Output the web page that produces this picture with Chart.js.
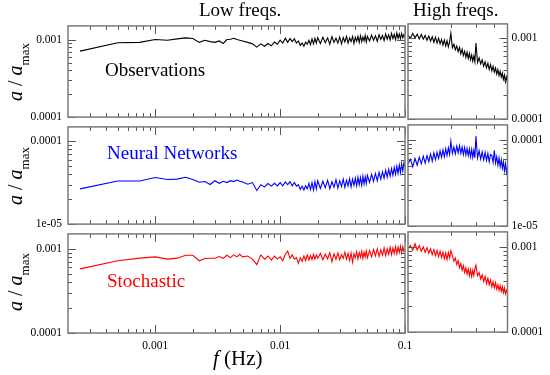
<!DOCTYPE html>
<html>
<head>
<meta charset="utf-8">
<script src="https://cdn.jsdelivr.net/npm/chart.js@4.4.0/dist/chart.umd.min.js"></script>
<style>
  body { margin: 0; background: #fff; }
  #fig { position: relative; width: 550px; height: 375px; overflow: hidden; font-family: 'Liberation Serif', 'Times New Roman', serif; }
  #fig canvas { position: absolute; }
  .txt { position: absolute; white-space: nowrap; font-size: 19px; line-height: 20px; }
  .ytit { position: absolute; width: 100px; height: 24px; line-height: 24px; text-align: center; font-size: 20px; transform: rotate(-90deg); white-space: nowrap; }
  .ytit span { font-size: 13px; position: relative; top: 7px; }
</style>
</head>
<body>
<div id="fig">
  <div class="txt" style="left:199px; top:0px;">Low freqs.</div>
  <div class="txt" style="left:413px; top:0px;">High freqs.</div>
  <div class="txt" style="left:105px; top:60px; color:#000;">Observations</div>
  <div class="txt" style="left:107px; top:143px; color:#0000ff;">Neural Networks</div>
  <div class="txt" style="left:107px; top:271px; color:#ff0000;">Stochastic</div>
  <div class="txt" style="left:213px; top:347px; font-size:21px; line-height:22px;"><i>f</i> (Hz)</div>
  <div class="ytit" style="left:-35px; top:60px;"><i>a</i> / <i>a</i><span>max</span></div>
  <div class="ytit" style="left:-35px; top:164px;"><i>a</i> / <i>a</i><span>max</span></div>
  <div class="ytit" style="left:-35px; top:270px;"><i>a</i> / <i>a</i><span>max</span></div>
</div>
<script>
// frecuencias (Hz): panel de bajas frecuencias y panel de altas frecuencias
const fLow = [
  0.00025, 0.0005, 0.00075, 0.001, 0.00125, 0.0015, 0.00175, 0.002, 0.00225, 0.0025,
  0.00275, 0.003, 0.00325, 0.0035, 0.00375, 0.004, 0.00425, 0.0045, 0.00475, 0.005,
  0.0055, 0.006, 0.0065, 0.007, 0.0075, 0.008, 0.0085, 0.009, 0.0095, 0.01,
  0.0105, 0.011, 0.0115, 0.012, 0.0125, 0.013, 0.0135, 0.014, 0.0145, 0.015,
  0.0155, 0.016, 0.0165, 0.017, 0.0175, 0.018, 0.0185, 0.019, 0.0195, 0.02,
  0.021, 0.022, 0.023, 0.024, 0.025, 0.026, 0.027, 0.028, 0.029, 0.03,
  0.031, 0.032, 0.033, 0.034, 0.035, 0.036, 0.037, 0.038, 0.039, 0.04,
  0.041, 0.042, 0.043, 0.044, 0.045, 0.046, 0.047, 0.048, 0.049, 0.05,
  0.052, 0.054, 0.056, 0.058, 0.06, 0.062, 0.064, 0.066, 0.068, 0.07,
  0.072, 0.074, 0.076, 0.078, 0.08, 0.082, 0.084, 0.086, 0.088, 0.09,
  0.092, 0.094, 0.096, 0.098, 0.1
];
const fHigh = [
  0.1, 0.104, 0.108, 0.112, 0.116, 0.12, 0.124, 0.128, 0.132, 0.136,
  0.14, 0.144, 0.148, 0.152, 0.156, 0.16, 0.164, 0.168, 0.172, 0.176,
  0.18, 0.184, 0.188, 0.192, 0.196, 0.2,
  0.205, 0.21, 0.215, 0.22, 0.225, 0.23, 0.235, 0.24, 0.245, 0.25,
  0.255, 0.26, 0.265, 0.27, 0.275, 0.28, 0.285, 0.29, 0.295, 0.3,
  0.308, 0.316, 0.324, 0.332, 0.34, 0.348, 0.356, 0.364, 0.372, 0.38,
  0.388, 0.396, 0.404, 0.412, 0.42, 0.428, 0.436, 0.444, 0.452, 0.46,
  0.468, 0.476, 0.484, 0.492, 0.5
];

// Observations (a / a_max)
const obsLow = [
  7.1e-4, 9.1e-4, 9.2e-4, 1.0e-3, 9.8e-4, 1.02e-3, 1.05e-3, 1.03e-3, 9.2e-4, 9.8e-4,
  9.4e-4, 9.2e-4, 9.6e-4, 8.9e-4, 1.0e-3, 1.01e-3, 1.04e-3, 1.0e-3, 9.8e-4, 9.6e-4,
  9.2e-4, 8.8e-4, 8.0e-4, 8.8e-4, 8.2e-4, 8.9e-4, 8.3e-4, 9.3e-4, 8.7e-4, 9.8e-4,
  9.0e-4, 1.04e-3, 9.2e-4, 1.03e-3, 9.4e-4, 1.02e-3, 9.0e-4, 9.6e-4, 8.4e-4, 9.0e-4,
  8.2e-4, 9.3e-4, 8.7e-4, 9.8e-4, 8.6e-4, 1.02e-3, 8.8e-4, 1.04e-3, 9.0e-4, 1.06e-3,
  8.9e-4, 1.07e-3, 9.1e-4, 1.05e-3, 8.7e-4, 1.09e-3, 9.2e-4, 1.04e-3, 9.0e-4, 1.08e-3,
  8.8e-4, 1.06e-3, 9.3e-4, 1.1e-3, 9.0e-4, 1.05e-3, 9.4e-4, 1.09e-3, 8.9e-4, 1.07e-3,
  9.5e-4, 1.1e-3, 9.2e-4, 1.12e-3, 9.4e-4, 1.08e-3, 9.6e-4, 1.13e-3, 9.3e-4, 1.1e-3,
  9.6e-4, 1.14e-3, 9.8e-4, 1.12e-3, 9.5e-4, 1.16e-3, 1.0e-3, 1.13e-3, 9.7e-4, 1.18e-3,
  1.01e-3, 1.15e-3, 9.9e-4, 1.2e-3, 1.03e-3, 1.17e-3, 1.0e-3, 1.22e-3, 1.04e-3, 1.18e-3,
  1.02e-3, 1.2e-3, 1.05e-3, 1.16e-3, 1.09e-3
];
const obsHigh = [
  1.08e-3, 1.0e-3, 1.14e-3, 1.01e-3, 1.12e-3, 9.8e-4, 1.11e-3, 9.7e-4, 1.08e-3, 9.4e-4,
  1.06e-3, 9.2e-4, 1.04e-3, 8.9e-4, 1.03e-3, 8.7e-4, 1.0e-3, 8.5e-4, 9.7e-4, 8.2e-4,
  9.5e-4, 8.0e-4, 9.3e-4, 7.8e-4, 9.0e-4, 1.15e-3,
  7.6e-4, 8.4e-4, 7.2e-4, 8.0e-4, 6.8e-4, 7.7e-4, 6.4e-4, 7.3e-4, 6.1e-4, 6.9e-4,
  5.8e-4, 6.7e-4, 5.6e-4, 6.5e-4, 5.4e-4, 6.2e-4, 5.2e-4, 6.0e-4, 5.1e-4, 8.7e-4,
  5.0e-4, 5.7e-4, 4.8e-4, 5.4e-4, 4.5e-4, 5.1e-4, 4.3e-4, 4.9e-4, 4.1e-4, 4.7e-4,
  3.95e-4, 4.5e-4, 3.8e-4, 4.3e-4, 3.6e-4, 4.1e-4, 3.45e-4, 3.9e-4, 3.3e-4, 3.7e-4,
  3.1e-4, 3.5e-4, 2.9e-4, 3.3e-4, 2.8e-4
];

// Neural Networks
const nnLow = [
  2.67e-5, 3.32e-5, 3.32e-5, 3.66e-5, 3.47e-5, 3.5e-5, 3.68e-5, 3.47e-5, 3.21e-5, 3.27e-5,
  3.01e-5, 3.35e-5, 3.12e-5, 3.3e-5, 3.18e-5, 3.35e-5, 3.27e-5, 3.41e-5, 3.3e-5, 3.24e-5,
  3.04e-5, 3.18e-5, 2.55e-5, 3.0e-5, 2.82e-5, 3.1e-5, 2.88e-5, 3.12e-5, 2.9e-5, 3.18e-5,
  2.9e-5, 3.24e-5, 3.0e-5, 3.27e-5, 2.9e-5, 3.18e-5, 2.88e-5, 3.0e-5, 2.62e-5, 2.88e-5,
  2.58e-5, 2.9e-5, 2.67e-5, 3.12e-5, 2.62e-5, 3.18e-5, 2.58e-5, 3.27e-5, 2.67e-5, 3.35e-5,
  2.7e-5, 3.3e-5, 2.75e-5, 3.4e-5, 2.68e-5, 3.25e-5, 2.8e-5, 3.45e-5, 2.72e-5, 3.35e-5,
  2.85e-5, 3.5e-5, 2.78e-5, 3.4e-5, 2.9e-5, 3.55e-5, 2.82e-5, 3.5e-5, 2.95e-5, 3.6e-5,
  2.9e-5, 3.7e-5, 3.0e-5, 3.65e-5, 2.95e-5, 3.8e-5, 3.05e-5, 3.75e-5, 3.1e-5, 3.9e-5,
  3.2e-5, 4.0e-5, 3.3e-5, 4.1e-5, 3.35e-5, 4.25e-5, 3.5e-5, 4.3e-5, 3.6e-5, 4.5e-5,
  3.7e-5, 4.6e-5, 3.8e-5, 4.7e-5, 3.9e-5, 4.85e-5, 4.0e-5, 5.0e-5, 4.1e-5, 5.2e-5,
  4.2e-5, 5.4e-5, 4.4e-5, 5.5e-5, 5.0e-5
];
const nnHigh = [
  5.3e-5, 6.0e-5, 4.9e-5, 6.1e-5, 5.1e-5, 6.3e-5, 5.3e-5, 6.5e-5, 5.4e-5, 6.6e-5,
  5.6e-5, 6.9e-5, 5.7e-5, 7.1e-5, 5.9e-5, 7.2e-5, 6.1e-5, 7.5e-5, 6.3e-5, 7.7e-5,
  6.4e-5, 7.9e-5, 6.6e-5, 8.1e-5, 6.8e-5, 9.7e-5,
  7.0e-5, 8.3e-5, 6.9e-5, 8.5e-5, 7.1e-5, 8.6e-5, 7.0e-5, 8.3e-5, 6.8e-5, 8.2e-5,
  6.7e-5, 8.0e-5, 6.6e-5, 7.9e-5, 6.4e-5, 7.8e-5, 6.3e-5, 7.6e-5, 6.2e-5, 1.11e-4,
  6.2e-5, 7.5e-5, 6.0e-5, 7.3e-5, 5.9e-5, 7.2e-5, 5.8e-5, 7.0e-5, 5.6e-5, 6.8e-5,
  6.6e-5, 5.5e-5, 7.6e-5, 5.4e-5, 6.4e-5, 5.1e-5, 6.2e-5, 4.9e-5, 5.9e-5, 4.7e-5,
  5.6e-5, 4.4e-5, 5.3e-5, 4.2e-5, 4.8e-5
];

// Stochastic
const stoLow = [
  5.77e-4, 7.2e-4, 7.73e-4, 8.0e-4, 7.53e-4, 7.73e-4, 8.37e-4, 8.37e-4, 7.2e-4, 7.65e-4,
  7.7e-4, 7.7e-4, 8.09e-4, 7.7e-4, 8.37e-4, 7.85e-4, 8.45e-4, 8.0e-4, 8.6e-4, 8.0e-4,
  8.2e-4, 7.53e-4, 6.47e-4, 8.45e-4, 7.53e-4, 8.2e-4, 7.35e-4, 8.2e-4, 7.53e-4, 8.0e-4,
  7.2e-4, 8.6e-4, 9.38e-4, 7.7e-4, 8.45e-4, 7.53e-4, 7.85e-4, 6.71e-4, 7.85e-4, 7.1e-4,
  8.2e-4, 7.2e-4, 8.45e-4, 7.35e-4, 8.3e-4, 7.45e-4, 8.6e-4, 7.53e-4, 8.45e-4, 7.7e-4,
  8.8e-4, 7.4e-4, 8.6e-4, 7.6e-4, 9.0e-4, 7.0e-4, 8.7e-4, 7.5e-4, 8.9e-4, 7.4e-4,
  8.5e-4, 7.7e-4, 9.1e-4, 7.5e-4, 8.8e-4, 7.3e-4, 8.9e-4, 6.9e-4, 8.7e-4, 7.8e-4,
  9.2e-4, 7.6e-4, 9.0e-4, 7.9e-4, 9.3e-4, 7.7e-4, 9.1e-4, 8.0e-4, 9.4e-4, 7.8e-4,
  9.5e-4, 8.0e-4, 9.8e-4, 8.2e-4, 1.0e-3, 8.1e-4, 9.7e-4, 8.4e-4, 1.02e-3, 8.3e-4,
  1.0e-3, 8.6e-4, 1.04e-3, 8.5e-4, 1.02e-3, 8.8e-4, 1.06e-3, 8.7e-4, 1.05e-3, 9.0e-4,
  1.07e-3, 8.9e-4, 1.06e-3, 9.3e-4, 9.6e-4
];
const stoHigh = [
  9.6e-4, 1.03e-3, 9.1e-4, 1.09e-3, 9.2e-4, 1.04e-3, 8.9e-4, 1.0e-3, 8.6e-4, 9.8e-4,
  8.4e-4, 9.5e-4, 8.1e-4, 9.3e-4, 7.9e-4, 9.1e-4, 7.7e-4, 8.9e-4, 7.5e-4, 8.7e-4,
  7.3e-4, 8.5e-4, 7.1e-4, 8.6e-4, 7.4e-4, 9.0e-4,
  7.9e-4, 6.8e-4, 7.4e-4, 6.2e-4, 6.9e-4, 5.7e-4, 6.4e-4, 5.3e-4, 6.0e-4, 5.0e-4,
  5.7e-4, 4.8e-4, 5.5e-4, 4.6e-4, 5.4e-4, 4.5e-4, 5.3e-4, 4.6e-4, 5.6e-4, 6.1e-4,
  4.6e-4, 5.0e-4, 4.2e-4, 4.7e-4, 3.9e-4, 4.5e-4, 3.7e-4, 4.3e-4, 3.6e-4, 4.1e-4,
  3.4e-4, 3.9e-4, 3.3e-4, 3.8e-4, 3.2e-4, 3.6e-4, 3.1e-4, 3.5e-4, 3.0e-4, 3.4e-4,
  2.9e-4, 3.3e-4, 2.8e-4, 3.1e-4, 2.9e-4
];

// marcas de los ejes
const xTicksLow = [0.0003, 0.0004, 0.0005, 0.0006, 0.0007, 0.0008, 0.0009,
  0.001, 0.002, 0.003, 0.004, 0.005, 0.006, 0.007, 0.008, 0.009,
  0.01, 0.02, 0.03, 0.04, 0.05, 0.06, 0.07, 0.08, 0.09, 0.1];
const xTicksHigh = [0.2, 0.3, 0.4];
const yTicksMil = [0.0001, 0.0002, 0.0003, 0.0004, 0.0005, 0.0006, 0.0007, 0.0008, 0.0009, 0.001];
const yTicksDiezMil = [0.00001, 0.00002, 0.00003, 0.00004, 0.00005, 0.00006, 0.00007, 0.00008, 0.00009, 0.0001];
const majorValues = [0.00001, 0.0001, 0.001, 0.01, 0.1];
const majorLabels = ['1e-05', '0.0001', '0.001', '0.01', '0.1'];

// geometria de los paneles (pixeles de la pagina)
const filas = [
  { top: 23, bottom: 120 },
  { top: 124, bottom: 227 },
  { top: 231, bottom: 333 }
];
const colIzq = { left: 68, right: 405 };
const colDer = { left: 408, right: 507.5 };

Chart.defaults.font.family = "'Liberation Serif', 'Times New Roman', serif";
Chart.defaults.font.size = 11.5;
Chart.defaults.color = '#000';

let charts = {};

// marco y marcas hacia adentro en los cuatro lados
const marcoTicks = {
  id: 'marcoTicks',
  afterDatasetsDraw(chart) {
    const { ctx, chartArea: a } = chart;
    const sx = chart.scales.x;
    const sy = chart.scales.y;
    ctx.save();
    ctx.strokeStyle = '#555';
    ctx.lineWidth = 1;
    ctx.beginPath();
    sx.ticks.forEach(t => {
      const px = Math.round(sx.getPixelForValue(t.value)) + 0.5;
      const len = majorValues.includes(t.value) ? 8 : 4;
      ctx.moveTo(px, a.bottom); ctx.lineTo(px, a.bottom - len);
      ctx.moveTo(px, a.top); ctx.lineTo(px, a.top + len);
    });
    sy.ticks.forEach(t => {
      const py = Math.round(sy.getPixelForValue(t.value)) + 0.5;
      const len = majorValues.includes(t.value) ? 8 : 4;
      ctx.moveTo(a.left, py); ctx.lineTo(a.left + len, py);
      ctx.moveTo(a.right, py); ctx.lineTo(a.right - len, py);
    });
    ctx.stroke();
    ctx.strokeStyle = '#7a7a7a';
    ctx.lineWidth = 1.5;
    ctx.strokeRect(a.left, a.top, a.right - a.left, a.bottom - a.top);
    ctx.restore();
  }
};

function etiqueta(value) {
  const i = majorValues.indexOf(value);
  return i >= 0 ? majorLabels[i] : '';
}

function crearPanel(id, fila, izquierda, xs, ys, color, xMin, xMax, yMin, yMax, xTicks, yTicks, etiquetasX) {
  const alto = fila.bottom - fila.top;
  const ancho = izquierda ? 420 : 150;
  const abajo = etiquetasX ? 30 : 10;
  const canvas = document.createElement('canvas');
  canvas.id = id;
  canvas.width = ancho;
  canvas.height = alto + 10 + abajo;
  canvas.style.width = ancho + 'px';
  canvas.style.height = canvas.height + 'px';
  canvas.style.left = (izquierda ? 0 : 400) + 'px';
  canvas.style.top = (fila.top - 10) + 'px';
  document.getElementById('fig').insertBefore(canvas, document.getElementById('fig').firstChild);

  const padding = izquierda
    ? { left: 0, right: ancho - colIzq.right, top: 10, bottom: etiquetasX ? 0 : 10 }
    : { left: colDer.left - 400, right: 0, top: 10, bottom: 10 };
  const anchoEjeY = izquierda ? colIzq.left : ancho - (colDer.right - 400);

  charts[id] = new Chart(canvas.getContext('2d'), {
    type: 'line',
    data: {
      datasets: [{
        data: xs.map((f, i) => ({ x: f, y: ys[i] })),
        borderColor: color,
        borderWidth: 1.1,
        pointRadius: 0,
        fill: false,
        tension: 0
      }]
    },
    options: {
      responsive: false,
      animation: false,
      devicePixelRatio: 1,
      layout: { padding: padding },
      plugins: { legend: { display: false }, tooltip: { enabled: false } },
      scales: {
        x: {
          type: 'logarithmic',
          min: xMin, max: xMax, bounds: 'data',
          afterBuildTicks: s => { s.ticks = xTicks.map(v => ({ value: v })); },
          afterFit: s => { if (etiquetasX) s.height = 30; },
          grid: { display: false, drawTicks: false },
          border: { display: false },
          ticks: { display: etiquetasX, autoSkip: false, maxRotation: 0, padding: 6, callback: etiqueta }
        },
        y: {
          type: 'logarithmic',
          position: izquierda ? 'left' : 'right',
          min: yMin, max: yMax, bounds: 'data',
          afterBuildTicks: s => { s.ticks = yTicks.map(v => ({ value: v })); },
          afterFit: s => { s.width = anchoEjeY; },
          grid: { display: false, drawTicks: false },
          border: { display: false },
          ticks: { autoSkip: false, padding: izquierda ? 6 : 4, callback: etiqueta }
        }
      }
    },
    plugins: [marcoTicks]
  });
}

crearPanel('obsIzq', filas[0], true, fLow, obsLow, '#000000', 0.0002, 0.1, 0.0001, 0.0015, xTicksLow, yTicksMil, false);
crearPanel('obsDer', filas[0], false, fHigh, obsHigh, '#000000', 0.1, 0.5, 0.0001, 0.0015, xTicksHigh, yTicksMil, false);
crearPanel('nnIzq', filas[1], true, fLow, nnLow, '#0000ff', 0.0002, 0.1, 0.00001, 0.00015, xTicksLow, yTicksDiezMil, false);
crearPanel('nnDer', filas[1], false, fHigh, nnHigh, '#0000ff', 0.1, 0.5, 0.00001, 0.00015, xTicksHigh, yTicksDiezMil, false);
crearPanel('stoIzq', filas[2], true, fLow, stoLow, '#ff0000', 0.0002, 0.1, 0.0001, 0.0015, xTicksLow, yTicksMil, true);
crearPanel('stoDer', filas[2], false, fHigh, stoHigh, '#ff0000', 0.1, 0.5, 0.0001, 0.0015, xTicksHigh, yTicksMil, false);
</script>
</body>
</html>
